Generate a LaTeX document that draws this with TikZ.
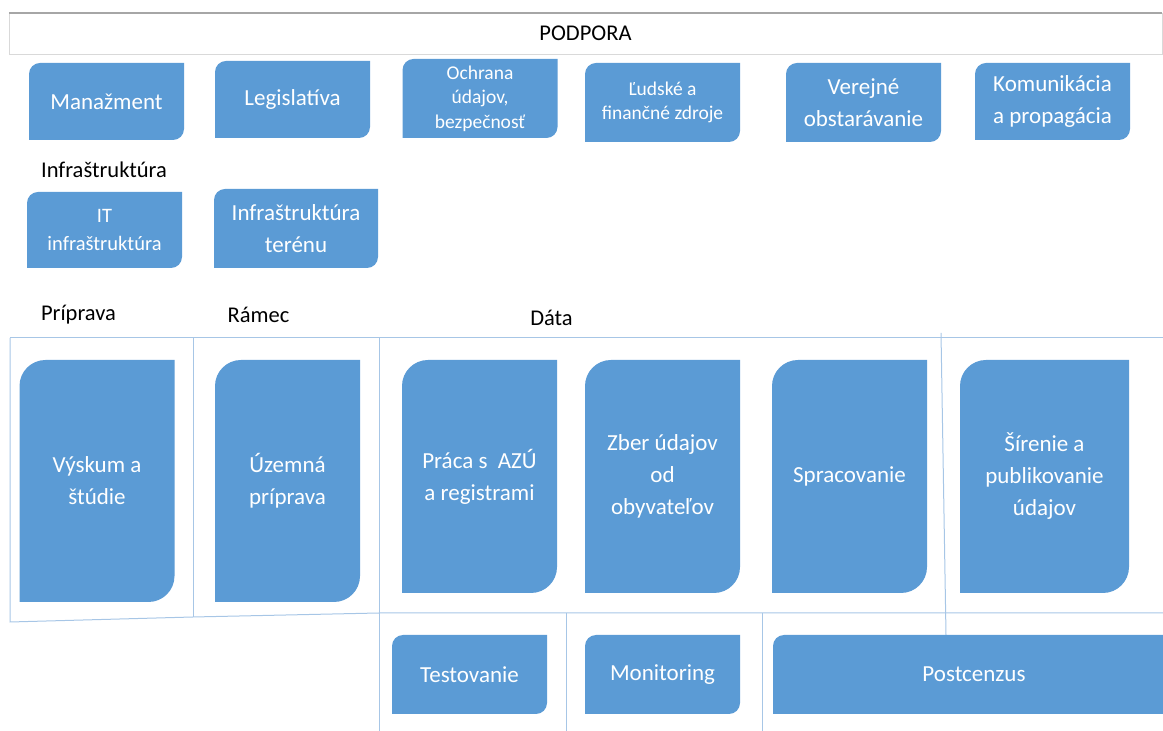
\documentclass[tikz,border=0pt]{standalone}
\usepackage{fontspec}
\setmainfont{Carlito}
\definecolor{cardblue}{HTML}{5B9BD5}
\definecolor{gridblue}{HTML}{A7C6E6}

\begin{document}
\begin{tikzpicture}[x=1pt, y=1pt,
    card/.style={fill=white, inner sep=2pt, align=center, text=white,
      font=\fontsize{23}{32}\selectfont,
      path picture={\fill[cardblue] (path picture bounding box.south west)
        -- ([yshift=-#1]path picture bounding box.north west)
        arc[start angle=180, end angle=90, radius=#1]
        -- (path picture bounding box.north east)
        -- ([yshift=#1]path picture bounding box.south east)
        arc[start angle=0, end angle=-90, radius=#1] -- cycle;}},
    smallcard/.style={card=11pt, minimum width=155pt, minimum height=77pt},
    tallcard/.style={card=26pt, minimum width=155pt, minimum height=233pt},
    smalltext/.style={font=\fontsize{19.5}{24.5}\selectfont},
    phase/.style={inner sep=0pt, text=black, font=\fontsize{22.5}{27}\selectfont},
    gridline/.style={draw=gridblue, line width=1pt}]
    \clip (0,0) rectangle (1163,731);

    % podpora
    \node[draw=gray!30, minimum width=1153pt, minimum height=41pt, phase] (podpora) at (585.5,697.5) {PODPORA};
    \draw[gray!70, line width=1.5pt] (podpora.north west) -- (podpora.north east);

    \node[smallcard] (manazment) at (106.5,629.5) {Manažment};
    \node[smallcard] (legislativa) at (292.5,631.5) {Legislatíva};
    \node[smallcard, smalltext, minimum height=79pt] (ochrana) at (480,632.5) {Ochrana\\údajov,\\bezpečnosť};
    \node[smallcard, smalltext, minimum height=79pt] (ludske) at (662.5,628.5) {Ľudské a\\finančné zdroje};
    \node[smallcard, minimum height=79pt] (verejne) at (863.5,628.5) {Verejné\\obstarávanie};
    \node[smallcard] (komunikacia) at (1052.5,629.5) {Komunikácia\\a propagácia};

    % infrastruktura
    \node[phase] (infra) at (104,561) {Infraštruktúra};
    \node[smallcard, font=\fontsize{20.5}{28}\selectfont, minimum height=76pt] (itinfra) at (104.5,501) {IT\\infraštruktúra};
    \node[smallcard, minimum width=164pt, minimum height=79pt] (infrateren) at (296,502.5) {Infraštruktúra\\terénu};

    % faze
    \node[phase] (priprava) at (78.5,416) {Príprava};
    \node[phase] (ramec) at (258.5,416) {Rámec};
    \node[phase] (data) at (551.5,413) {Dáta};

    \draw[gridline] (10,393) -- (1163,393);
    \draw[gridline] (10,393) -- (10,109) -- (193,114) -- (379,118) -- (1163,118);
    \draw[gridline] (193,393) -- (193,114);
    \draw[gridline] (379,393) -- (379,0);
    \draw[gridline] (566,118) -- (566,0);
    \draw[gridline] (762,118) -- (762,0);
    \draw[gridline] (941,398) -- (946,96);

    \node[tallcard, minimum height=242pt] (vyskum) at (97,250) {Výskum a\\štúdie};
    \node[tallcard, minimum width=145pt, minimum height=242pt] (uzemna) at (287.5,250) {Územná\\príprava};
    \node[tallcard] (praca) at (479.5,254.5) {Práca s\ \ AZÚ\\a registrami};
    \node[tallcard] (zber) at (662.5,254.5) {Zber údajov\\od\\obyvateľov};
    \node[tallcard] (spracovanie) at (849.5,254.5) {Spracovanie};
    \node[tallcard, minimum width=169pt] (sirenie) at (1044.5,254.5) {Šírenie a\\publikovanie\\údajov};

    \node[smallcard, minimum height=79pt] (testovanie) at (469.5,56.5) {Testovanie};
    \node[smallcard, minimum height=79pt] (monitoring) at (662.5,56.5) {Monitoring};
    \node[smallcard, minimum width=402pt, minimum height=79pt] (postcenzus) at (974,56.5) {Postcenzus};
\end{tikzpicture}
\end{document}
